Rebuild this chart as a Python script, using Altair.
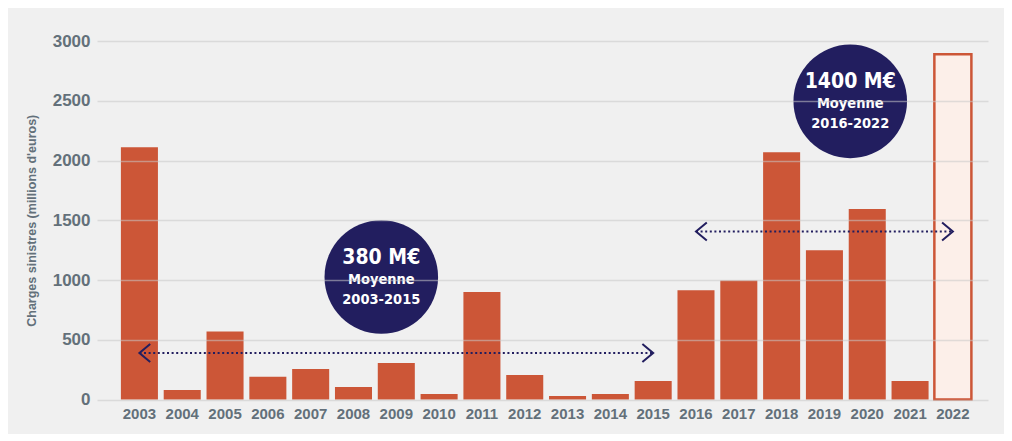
import altair as alt
import pandas as pd

# ---- data ----
years = [str(y) for y in range(2003, 2023)]
charges = [2110, 80, 570, 190, 255, 105, 305, 45, 900, 205, 30, 45, 155,
           915, 995, 2070, 1250, 1595, 155, 2890]
estimate = [False] * 19 + [True]          # 2022 drawn as outlined estimate

avg_start = ["2003", "2016"]
avg_end = ["2015", "2022"]
avg_level = [390, 1405]
avg_value_label = ["380 M€", "1400 M€"]
avg_period_label = ["2003-2015", "2016-2022"]
bubble_year = ["2009", "2020"]
bubble_center = [1025, 2495]
bubble_shift = [-15, -17]

y_ticks = [0, 500, 1000, 1500, 2000, 2500, 3000]

BAR = "#cc5637"
NAVY = "#221e5f"
GREY = "#63707a"
BG = "#f0f0f0"
FONT = "Liberation Sans"
NARROW = "'DejaVu Sans Condensed', Roboto, 'Liberation Sans', sans-serif"

bars_df = pd.DataFrame({"year": years, "charge": charges, "estimate": estimate})

xscale = alt.Scale(domain=years, paddingInner=0.135, paddingOuter=0.473, align=0.59)
yscale = alt.Scale(domain=[0, 3000], nice=False)

x_enc = alt.X("year:N", scale=xscale, sort=years,
              axis=alt.Axis(title=None, labelAngle=0, ticks=False, domain=False,
                            labelFontSize=15, labelFontWeight="bold", labelColor=GREY,
                            labelFont=FONT, labelPadding=7, grid=False))
y_enc = alt.Y("charge:Q", scale=yscale,
              axis=alt.Axis(title="Charges sinistres (millions d'euros)", values=y_ticks,
                            format="d",
                            ticks=False, domain=False, labelFontSize=17,
                            labelFontWeight="bold", labelColor=GREY, labelFont=FONT,
                            labelPadding=7, titleFontSize=12.5, titleFontWeight="bold",
                            titleColor=GREY, titleFont=FONT, titlePadding=14,
                            grid=True, gridColor="#c8c8c8", gridOpacity=0.55,
                            gridWidth=1.5, zindex=1))

solid = alt.Chart(bars_df).transform_filter("!datum.estimate").mark_bar(
    color=BAR).encode(x=x_enc, y=y_enc)
outlined = alt.Chart(bars_df).transform_filter("datum.estimate").mark_bar(
    fill="#fcefe9", stroke=BAR, strokeWidth=2.5).encode(
    x=alt.X("year:N", scale=xscale, sort=years),
    y=alt.Y("charge:Q", scale=yscale))

line_df = pd.DataFrame({"start": avg_start, "end": avg_end, "level": avg_level})
rules = alt.Chart(line_df).mark_rule(color=NAVY, strokeWidth=2, strokeDash=[2, 2.6]).encode(
    x=alt.X("start:N", scale=xscale, sort=years),
    x2="end:N",
    y=alt.Y("level:Q", scale=yscale))
left_head = alt.Chart(line_df).mark_point(
    shape="M 1.2 -1 L 0 0 L 1.2 1", filled=False, color=NAVY, strokeWidth=2,
    size=324, opacity=1).encode(
    x=alt.X("start:N", scale=xscale, sort=years), y=alt.Y("level:Q", scale=yscale))
right_head = alt.Chart(line_df).mark_point(
    shape="M -1.2 -1 L 0 0 L -1.2 1", filled=False, color=NAVY, strokeWidth=2,
    size=324, opacity=1).encode(
    x=alt.X("end:N", scale=xscale, sort=years), y=alt.Y("level:Q", scale=yscale))

layers = [solid, outlined, rules, left_head, right_head]

for i in range(2):
    bdf = pd.DataFrame({"year": [bubble_year[i]], "c": [bubble_center[i]],
                        "v": [avg_value_label[i]], "p": [avg_period_label[i]]})
    base = alt.Chart(bdf)
    xb = alt.X("year:N", scale=xscale, sort=years)
    yb = alt.Y("c:Q", scale=yscale)
    circle = base.mark_circle(size=12900, color=NAVY, opacity=1,
                              xOffset=bubble_shift[i]).encode(x=xb, y=yb)
    t1 = base.mark_text(color="white", font=NARROW, fontWeight="bold", fontSize=21,
                        xOffset=bubble_shift[i], yOffset=-19.5, baseline="middle").encode(
        x=xb, y=yb, text="v:N")
    t2 = base.mark_text(color="white", font=NARROW, fontWeight="bold", fontSize=14.5,
                        xOffset=bubble_shift[i], yOffset=3, baseline="middle").encode(
        x=xb, y=yb, text=alt.value("Moyenne"))
    t3 = base.mark_text(color="white", font=NARROW, fontWeight="bold", fontSize=14.5,
                        xOffset=bubble_shift[i], yOffset=22.5, baseline="middle").encode(
        x=xb, y=yb, text="p:N")
    layers += [circle, t1, t2, t3]

chart = alt.layer(*layers).properties(
    width=891, height=358.5, background=BG,
    autosize=alt.AutoSizeParams(type="none"),
    padding={"left": 89, "top": 33, "right": 16, "bottom": 34},
).configure_view(stroke=None)

chart.save("out.html", embed_options={"renderer": "svg", "actions": False})
